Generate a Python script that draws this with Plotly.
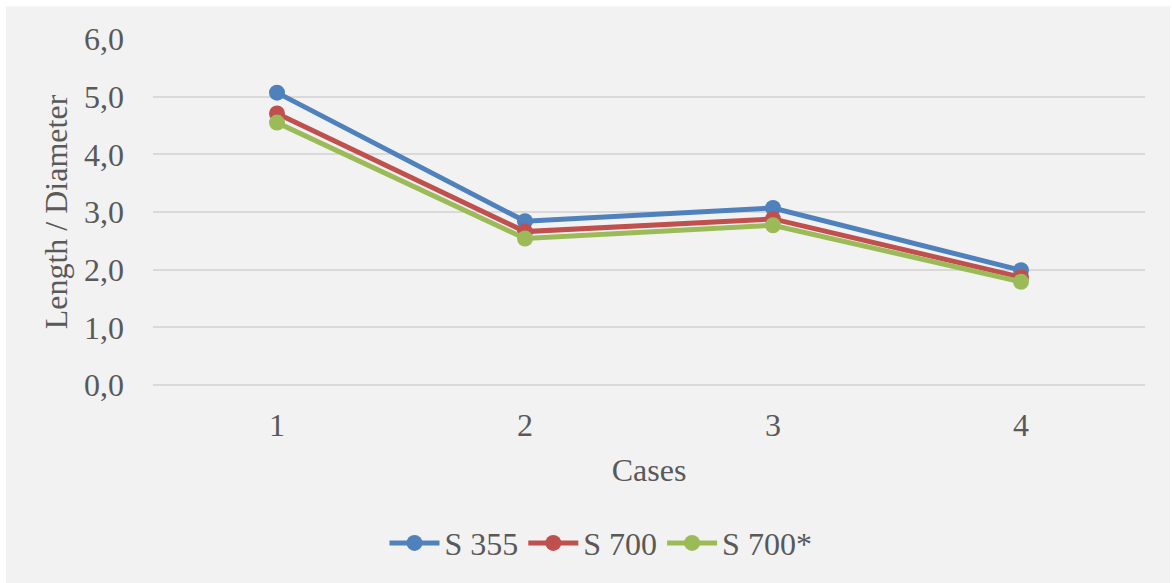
import plotly.graph_objects as go

cases = [1, 2, 3, 4]
s355 = [5.07, 2.84, 3.07, 1.99]
s700 = [4.71, 2.66, 2.88, 1.87]
s700s = [4.55, 2.54, 2.77, 1.79]
names = ["S 355", "S 700", "S 700*"]
colors = ["#4f81bd", "#c0504d", "#9bbb59"]
yticks = [0, 1, 2, 3, 4, 5, 6]
ytext = ["0,0", "1,0", "2,0", "3,0", "4,0", "5,0", "6,0"]

FONT = "Liberation Serif, Times New Roman, serif"
FS = 32
fig = go.Figure()
for name, vals, c in zip(names, [s355, s700, s700s], colors):
    fig.add_trace(go.Scatter(x=cases, y=vals, name=name, mode="lines+markers",
                             line=dict(color=c, width=5),
                             marker=dict(color=c, size=16)))

fig.update_layout(
    width=1172, height=583,
    paper_bgcolor="white", plot_bgcolor="rgba(0,0,0,0)",
    margin=dict(l=153, r=27, t=39, b=196),
    font=dict(family=FONT, size=FS, color="#595959"),
    showlegend=True,
    legend=dict(orientation="h", x=0.4516, xanchor="center", y=-0.457, yanchor="middle",
                font=dict(size=FS, color="#595959"), bgcolor="rgba(0,0,0,0)",
                itemwidth=50, tracegroupgap=0),
    shapes=[dict(type="rect", xref="paper", yref="paper", layer="below",
                 x0=(6 - 153) / 992, x1=(1170 - 153) / 992,
                 y0=(387 - 590) / 348, y1=(387 - 6) / 348,
                 fillcolor="#f2f2f2", line=dict(width=0))],
)
fig.update_xaxes(range=[0.5, 4.5], tickvals=cases, ticktext=[str(c) for c in cases],
                 showgrid=False, zeroline=False, showline=False,
                 ticklabelstandoff=18,
                 title=dict(text="Cases", standoff=16, font=dict(size=FS, color="#595959")))
fig.update_yaxes(range=[0, 6], tickvals=yticks, ticktext=ytext,
                 showgrid=True, gridcolor="#d9d9d9", gridwidth=2,
                 zeroline=True, zerolinecolor="#d9d9d9", zerolinewidth=2,
                 showline=False, ticklabelstandoff=28,
                 title=dict(text="Length / Diameter", standoff=6, font=dict(size=FS, color="#595959")))
fig.write_html("out.html", config={"displayModeBar": False},
               post_script="document.body.style.margin='0';document.body.style.overflow='hidden';")
